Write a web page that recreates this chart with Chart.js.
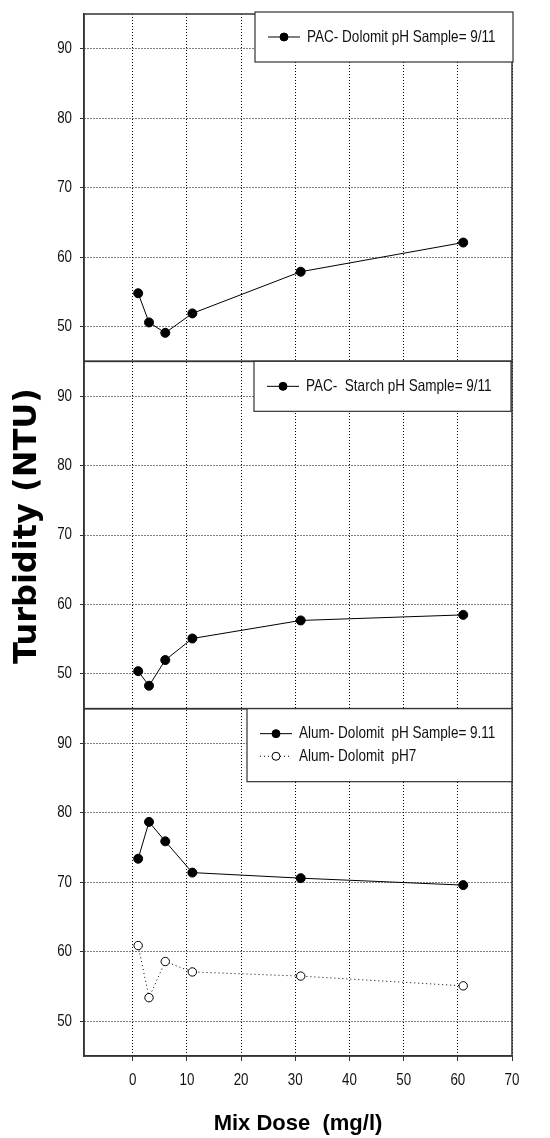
<!DOCTYPE html>
<html>
<head>
<meta charset="utf-8">
<script src="https://cdn.jsdelivr.net/npm/chart.js@4/dist/chart.umd.min.js"></script>
<style>
  html, body { margin: 0; padding: 0; background: #fff; }
  #wrap { width: 550px; height: 1138px; position: relative; }
</style>
</head>
<body>
<div id="wrap"><canvas id="grafico" width="550" height="1138"></canvas></div>
<script>
// --- Dados ---
const doses = [1, 3, 6, 11, 31, 61];
const pacDolomit = [54.8, 50.6, 49.1, 51.9, 57.9, 62.1];
const pacStarch = [50.4, 48.3, 52.0, 55.1, 57.7, 58.5];
const alumDolomit911 = [73.4, 78.7, 75.9, 71.4, 70.6, 69.6];
const alumDolomit7 = [60.9, 53.4, 58.6, 57.1, 56.5, 55.1];
const yTicks = [50, 60, 70, 80, 90];
const xTicks = [0, 10, 20, 30, 40, 50, 60, 70];

// fonte "estreita": Liberation Sans comprimida na horizontal
const ESTREITO = 0.82;
function textoEstreito(ctx, txt, x, y, size, align, weight) {
    ctx.save();
    ctx.font = `${weight || 'normal'} ${size}px "Liberation Sans", Arial, sans-serif`;
    ctx.fillStyle = '#111';
    ctx.textBaseline = 'middle';
    ctx.textAlign = align;
    ctx.translate(x, y);
    ctx.scale(ESTREITO, 1);
    ctx.fillText(txt, 0, 0);
    ctx.restore();
}

const pontos = arr => doses.map((x, i) => ({ x: x, y: arr[i] }));

function serie(label, arr, eixo, aberto) {
    return {
        label: label,
        data: pontos(arr),
        yAxisID: eixo,
        borderColor: '#000',
        borderWidth: 1,
        borderDash: aberto ? [1, 3] : [],
        pointRadius: aberto ? 4.2 : 4.5,
        pointHoverRadius: 4.5,
        pointBackgroundColor: aberto ? '#fff' : '#000',
        pointBorderColor: '#000',
        pointBorderWidth: 1,
        tension: 0,
        fill: false
    };
}

function eixoY() {
    return {
        type: 'linear',
        position: 'left',
        stack: 'paineis',
        stackWeight: 1,
        min: 45,
        max: 95,
        afterBuildTicks: s => { s.ticks = yTicks.map(v => ({ value: v })); },
        afterFit: s => { s.width = 40; },
        grid: { color: '#000', lineWidth: 1, tickLength: 4, tickColor: '#333' },
        border: { color: '#333', width: 1.5, dash: [1, 2] },
        ticks: { display: false }
    };
}

// legendas de cada painel
const legendas = [
    { eixo: 'yTop', left: 255, right: 513, dy: -2, h: 50, series: [0] },
    { eixo: 'yMid', left: 254, right: 511, dy: 0, h: 50, series: [1] },
    { eixo: 'yBot', left: 247, right: 512, dy: 0, h: 73, series: [2, 3] }
];

const pluginPaineis = {
    id: 'paineis',
    afterDraw(chart) {
        const ctx = chart.ctx;
        const area = chart.chartArea;
        ctx.save();
        // molduras
        ctx.strokeStyle = '#333';
        ctx.lineWidth = 1.5;
        ['yTop', 'yMid', 'yBot'].forEach(id => {
            const s = chart.scales[id];
            ctx.strokeRect(area.left, s.top, area.right - area.left, s.bottom - s.top);
            // rótulos do eixo y
            s.ticks.forEach(t => {
                textoEstreito(ctx, String(t.value), s.right - 12, s.getPixelForValue(t.value), 16.3, 'right');
            });
        });
        // rótulos do eixo x
        const sx = chart.scales.x;
        sx.ticks.forEach(t => {
            textoEstreito(ctx, String(t.value), sx.getPixelForValue(t.value), area.bottom + 25, 16.3, 'center');
        });
        // legendas
        legendas.forEach(lg => {
            const s = chart.scales[lg.eixo];
            const top = s.top + lg.dy;
            ctx.fillStyle = '#fff';
            ctx.fillRect(lg.left, top, lg.right - lg.left, lg.h);
            ctx.strokeStyle = '#333';
            ctx.lineWidth = 1.2;
            ctx.strokeRect(lg.left, top, lg.right - lg.left, lg.h);
            lg.series.forEach((di, r) => {
                const ds = chart.data.datasets[di];
                const y = top + 25 + r * 22.6;
                ctx.strokeStyle = '#000';
                ctx.lineWidth = 1;
                ctx.setLineDash(ds.borderDash);
                ctx.beginPath();
                ctx.moveTo(lg.left + 13, y);
                ctx.lineTo(lg.left + 45, y);
                ctx.stroke();
                ctx.setLineDash([]);
                ctx.beginPath();
                ctx.arc(lg.left + 29, y, 4, 0, Math.PI * 2);
                ctx.fillStyle = ds.pointBackgroundColor;
                ctx.fill();
                ctx.stroke();
                textoEstreito(ctx, ds.label, lg.left + 52, y, 16.5, 'left');
            });
        });
        // titulo do eixo y
        ctx.translate(27.5, 526);
        ctx.rotate(-Math.PI / 2);
        ctx.fillStyle = '#000';
        ctx.font = 'bold 32px "DejaVu Sans"';
        ctx.textAlign = 'center';
        ctx.textBaseline = 'middle';
        ctx.fillText('Turbidity (NTU)', 0, 0);
        ctx.restore();
    }
};

new Chart(document.getElementById('grafico').getContext('2d'), {
    type: 'line',
    data: {
        datasets: [
            serie('PAC- Dolomit pH Sample= 9/11', pacDolomit, 'yTop', false),
            serie('PAC-  Starch pH Sample= 9/11', pacStarch, 'yMid', false),
            serie('Alum- Dolomit  pH Sample= 9.11', alumDolomit911, 'yBot', false),
            serie('Alum- Dolomit  pH7', alumDolomit7, 'yBot', true)
        ]
    },
    options: {
        responsive: false,
        animation: false,
        layout: { padding: { left: 44, right: 38, top: 14, bottom: 0 } },
        plugins: { legend: { display: false }, tooltip: { enabled: false } },
        scales: {
            x: {
                type: 'linear',
                position: 'bottom',
                min: -9,
                max: 70,
                afterBuildTicks: s => { s.ticks = xTicks.map(v => ({ value: v })); },
                afterFit: s => { s.height = 82; },
                grid: { color: '#000', lineWidth: 1, tickLength: 5, tickColor: '#333' },
                border: { color: '#333', width: 1.5, dash: [1, 2] },
                ticks: { display: false },
                title: { display: true, text: 'Mix Dose  (mg/l)', color: '#000', font: { family: '"Liberation Sans"', size: 22, weight: 'bold' }, padding: { top: 0, bottom: 1 } }
            },
            yBot: eixoY(),
            yMid: eixoY(),
            yTop: eixoY()
        }
    },
    plugins: [pluginPaineis]
});
</script>
</body>
</html>
